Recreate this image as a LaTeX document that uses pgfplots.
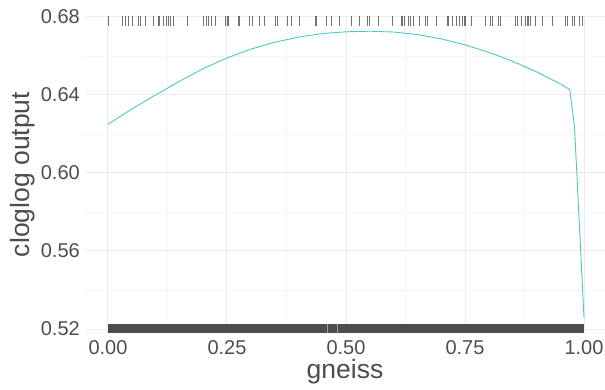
\documentclass[border=0pt]{standalone}
\usepackage{fontspec}
\setmainfont{Liberation Sans}
\usepackage{pgfplots}
\pgfplotsset{compat=1.18}
\definecolor{curve}{RGB}{82,197,197}
\definecolor{gridmaj}{RGB}{235,235,235}
\definecolor{gridmin}{RGB}{245,245,245}
\definecolor{txt}{RGB}{77,77,77}
\definecolor{rug}{RGB}{77,77,77}
\begin{document}
\begin{tikzpicture}
\useasboundingbox (-85pt,-57pt) rectangle (520pt,333pt);
\begin{axis}[
 at={(0,0)}, anchor=south west, scale only axis,
 width=520pt, height=317pt,
 xmin=-0.0483, xmax=1.0441, ymin=0.51795, ymax=0.68051,
 axis line style={draw=none},
 major tick length=0pt, minor tick length=0pt,
 xtick={0,0.25,0.5,0.75,1}, xticklabels={0.00,0.25,0.50,0.75,1.00},
 ytick={0.52,0.56,0.60,0.64,0.68}, yticklabels={0.52,0.56,0.60,0.64,0.68},
 minor xtick={0.125,0.375,0.625,0.875}, minor ytick={0.54,0.58,0.62,0.66},
 grid=both,
 major grid style={draw=gridmaj, line width=1pt},
 minor grid style={draw=gridmin, line width=0.6pt},
 tick label style={font=\fontsize{20}{24}\selectfont, text=txt},
 xticklabel style={anchor=north, inner sep=0pt, yshift=-7pt},
 yticklabel style={anchor=east, inner sep=0pt, xshift=-5pt},
 xlabel={gneiss}, ylabel={cloglog output},
 xlabel style={font=\fontsize{26.5}{30}\selectfont, text=txt, at={(axis description cs:0.5,-0.142)}, anchor=base},
 ylabel style={font=\fontsize{26.5}{30}\selectfont, text=txt, at={(axis description cs:-0.1058,0.5)}, anchor=base, rotate=0},
 clip=false,
]
% bottom rug (dense, drawn as a solid band)
\addplot[fill=rug, draw=none] coordinates {(-0.001,0.51795) (1.001,0.51795) (1.001,0.5226) (-0.001,0.5226)};
\addplot[draw=rug!55!white, line width=0.7pt] coordinates {(0.461,0.51795) (0.461,0.5226)};
\addplot[draw=rug!55!white, line width=0.7pt] coordinates {(0.482,0.51795) (0.482,0.5226)};
% top rug
\addplot[only marks, mark=|, mark size=5pt, mark options={line width=0.9pt, draw=black, draw opacity=0.55}] coordinates {
(0.002,0.67795) (0.030,0.67795) (0.037,0.67795) (0.044,0.67795) (0.051,0.67795)
(0.065,0.67795) (0.069,0.67795) (0.078,0.67795) (0.095,0.67795) (0.106,0.67795)
(0.109,0.67795) (0.116,0.67795) (0.123,0.67795) (0.127,0.67795) (0.132,0.67795)
(0.137,0.67795) (0.167,0.67795) (0.200,0.67795) (0.206,0.67795) (0.211,0.67795)
(0.218,0.67795) (0.225,0.67795) (0.246,0.67795) (0.251,0.67795) (0.253,0.67795)
(0.275,0.67795) (0.277,0.67795) (0.298,0.67795) (0.303,0.67795) (0.318,0.67795)
(0.328,0.67795) (0.352,0.67795) (0.356,0.67795) (0.377,0.67795) (0.386,0.67795)
(0.402,0.67795) (0.435,0.67795) (0.438,0.67795) (0.459,0.67795) (0.470,0.67795)
(0.486,0.67795) (0.512,0.67795) (0.529,0.67795) (0.546,0.67795) (0.550,0.67795)
(0.568,0.67795) (0.597,0.67795) (0.616,0.67795) (0.618,0.67795) (0.622,0.67795)
(0.632,0.67795) (0.636,0.67795) (0.641,0.67795) (0.655,0.67795) (0.667,0.67795)
(0.671,0.67795) (0.691,0.67795) (0.713,0.67795) (0.716,0.67795) (0.723,0.67795)
(0.733,0.67795) (0.738,0.67795) (0.745,0.67795) (0.748,0.67795) (0.751,0.67795)
(0.763,0.67795) (0.793,0.67795) (0.804,0.67795) (0.807,0.67795) (0.820,0.67795)
(0.824,0.67795) (0.857,0.67795) (0.860,0.67795) (0.869,0.67795) (0.878,0.67795)
(0.881,0.67795) (0.884,0.67795) (0.888,0.67795) (0.899,0.67795) (0.913,0.67795)
(0.933,0.67795) (0.962,0.67795) (0.966,0.67795) (0.975,0.67795) (0.979,0.67795)
(0.990,0.67795) (0.997,0.67795)
};
% response curve
\addplot[draw=curve, line width=0.9pt] coordinates {
(0.00,0.6250) (0.05,0.6328) (0.10,0.6400) (0.15,0.6470) (0.20,0.6535)
(0.25,0.6590) (0.30,0.6635) (0.35,0.6670) (0.40,0.6697) (0.45,0.6715)
(0.50,0.6724) (0.55,0.6727) (0.60,0.6723) (0.65,0.6710) (0.70,0.6688)
(0.75,0.6657) (0.80,0.6619) (0.85,0.6573) (0.90,0.6519) (0.95,0.6457)
(0.97,0.6428) (0.98,0.6240) (1.00,0.5257)
};
\end{axis}
\end{tikzpicture}
\end{document}
